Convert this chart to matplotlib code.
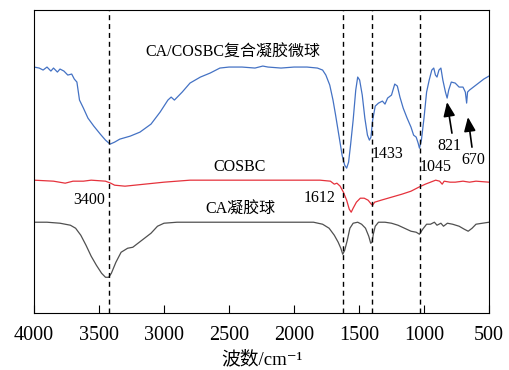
import matplotlib
matplotlib.use("Agg")
import matplotlib.pyplot as plt

plt.rcParams['font.family'] = ['Liberation Serif', 'Noto Sans CJK SC', 'DejaVu Serif']

# CA/COSBC composite gel microspheres (blue)
wn_blue = [4000, 3960, 3930, 3900, 3870, 3850, 3820, 3800, 3770, 3740, 3710, 3690, 3670, 3650,
           3620, 3585, 3540, 3490, 3450, 3415, 3380, 3340, 3260, 3185, 3100, 3030, 2970, 2945,
           2920, 2860, 2800, 2720, 2645, 2570, 2500, 2400, 2300, 2240, 2200, 2100, 2000, 1900,
           1820, 1780, 1755, 1725, 1700, 1680, 1655, 1630, 1610, 1595, 1580, 1565, 1545, 1525,
           1510, 1495, 1475, 1455, 1435, 1420, 1408, 1395, 1375, 1350, 1320, 1300, 1280, 1250,
           1225, 1205, 1185, 1160, 1130, 1100, 1080, 1060, 1045, 1035, 1020, 1000, 980, 960,
           940, 925, 912, 900, 885, 870, 855, 835, 822, 810, 790, 760, 730, 700, 682, 672, 665,
           650, 620, 580, 540, 500]
t_blue = [246, 245, 243, 246, 242, 245, 241, 244, 242, 238, 239, 234, 231, 213,
          205, 195, 187, 179, 173, 169, 171, 174, 177, 181, 189, 201, 213, 216,
          213, 221, 230, 236, 240, 245, 246, 246, 245, 247, 246, 245, 246, 246,
          245, 243, 238, 228, 213, 198, 178, 158, 148, 145, 151, 168, 193, 223,
          236, 233, 218, 195, 178, 173, 176, 193, 207, 210, 212, 209, 215, 218,
          229, 227, 216, 205, 195, 186, 178, 176, 170, 165, 173, 195, 221, 233,
          243, 245, 238, 236, 243, 245, 233, 221, 215, 223, 231, 230, 226, 226, 221, 210, 221,
          223, 226, 230, 234, 237]

# COSBC (red)
wn_red = [4000, 3850, 3760, 3700, 3620, 3560, 3450, 3410, 3380, 3300, 3150, 3000, 2800, 2500,
          2000, 1800, 1720, 1690, 1670, 1645, 1620, 1595, 1575, 1560, 1545, 1520, 1490, 1460,
          1430, 1405, 1395, 1380, 1330, 1250, 1170, 1100, 1040, 990, 950, 910, 880, 860, 845,
          800, 760, 700, 650, 600, 500]
t_red = [133, 132, 130, 132, 132, 133, 132, 130, 128, 127, 129, 131, 133, 133,
         133, 133, 132, 129, 130, 127, 121, 113, 104, 101, 105, 111, 115, 115,
         113, 109, 108, 111, 113, 116, 119, 122, 126, 129, 131, 133, 132, 129, 132,
         131, 131, 132, 131, 132, 131]

# CA gel beads (gray)
wn_gray = [4000, 3900, 3800, 3720, 3680, 3640, 3600, 3560, 3520, 3480, 3450, 3425, 3405, 3370,
           3330, 3280, 3240, 3200, 3150, 3100, 3050, 3000, 2900, 2500, 2000, 1850, 1780, 1730,
           1690, 1660, 1640, 1625, 1610, 1590, 1570, 1545, 1510, 1480, 1450, 1425, 1410, 1400,
           1390, 1375, 1350, 1300, 1250, 1200, 1150, 1100, 1060, 1035, 1010, 980, 950, 920, 900,
           870, 850, 820, 780, 730, 690, 660, 630, 600, 550, 500]
t_gray = [91, 91, 90, 88, 85, 78, 68, 57, 48, 40, 36, 36, 40, 51,
          61, 65, 66, 70, 75, 80, 87, 90, 91, 91, 91, 91, 89, 85,
          78, 71, 65, 59, 63, 73, 85, 90, 91, 89, 85, 77, 70, 71,
          79, 87, 91, 91, 90, 88, 85, 82, 81, 79, 84, 89, 89, 91, 88,
          90, 87, 90, 89, 87, 84, 82, 85, 89, 90, 91]

peak_lines = [3425, 1625, 1397, 1030]
xticks = [4000, 3500, 3000, 2500, 2000, 1500, 1000, 500]

fig = plt.figure(figsize=(5.09, 3.70), dpi=100)
ax = fig.add_axes([0.0668, 0.1532, 0.8939, 0.8198])

ax.plot(wn_blue, t_blue, color='#4472C4', lw=0.9)
ax.plot(wn_red, t_red, color='#E5323C', lw=0.9)
ax.plot(wn_gray, t_gray, color='#505050', lw=0.9)

for x in peak_lines:
    ax.axvline(x, color='black', lw=1.0, ls=(0, (3.6, 2.8)))

ax.set_xlim(4000, 500)
ax.set_ylim(0, 303)
ax.set_xticks(xticks)
ax.set_yticks([])
ax.tick_params(axis='x', direction='in', length=5.8, width=0.8, labelsize=14.5, pad=9)
for s in ax.spines.values():
    s.set_linewidth(0.8)

ax.set_xlabel('波数/cm⁻¹', fontsize=13.5, labelpad=4)

fs = 11.5
ax.text(2469, 260, 'CA/COSBC复合凝胶微球', ha='center', va='center', fontsize=fs)
ax.text(2415, 146, 'COSBC', ha='center', va='center', fontsize=fs)
ax.text(2415, 103, 'CA凝胶球', ha='center', va='center', fontsize=fs)
ax.text(3577, 113, '3400', ha='center', va='center', fontsize=fs)
ax.text(1800, 115, '1612', ha='center', va='center', fontsize=fs)
ax.text(1400, 159, '1433', ha='left', va='center', fontsize=fs)
ax.text(1031, 146, '1045', ha='left', va='center', fontsize=fs)
ax.text(808, 167, '821', ha='center', va='center', fontsize=fs)
ax.text(623, 153, '670', ha='center', va='center', fontsize=fs)

arrow = dict(arrowstyle='-|>,head_length=0.85,head_width=0.35', color='black', lw=1.2,
             shrinkA=0, shrinkB=0)
ax.annotate('', xy=(823, 211), xytext=(785, 180), arrowprops=arrow)
ax.annotate('', xy=(662, 196), xytext=(631, 166), arrowprops=arrow)

fig.savefig('out.png', dpi=100)
